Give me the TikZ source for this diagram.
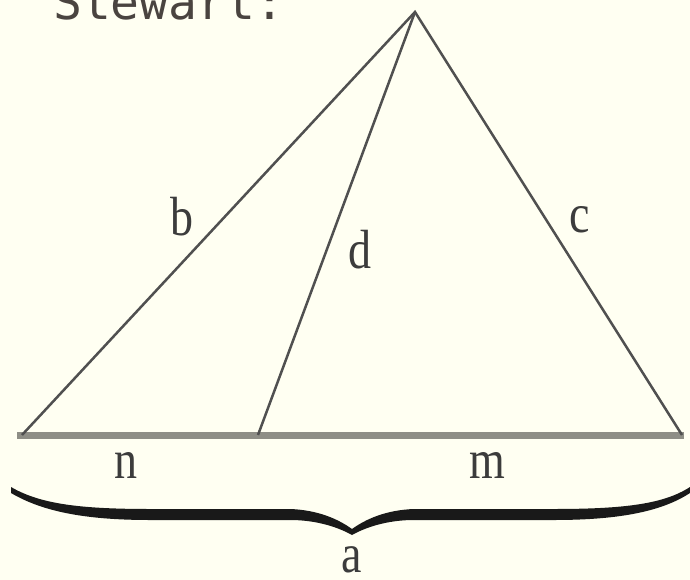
\documentclass[tikz,border=0pt]{standalone}
\usepackage{fontspec}
\setmainfont{Liberation Serif}
\newfontfamily\monofnt{DejaVu Sans Mono}
\definecolor{bgcol}{HTML}{FFFFF2}
\definecolor{edgecol}{HTML}{505050}
\definecolor{lblcol}{HTML}{3C3C3C}
\definecolor{basecol}{HTML}{8E8E86}
\definecolor{txtcol}{HTML}{4A4440}
\begin{document}
\begin{tikzpicture}[x=1pt,y=-1pt,
  edge/.style={draw=edgecol,line width=2.5pt},
  baseline seg/.style={draw=basecol,line width=7pt},
  lbl/.style={font=\fontsize{46}{46}\selectfont,text=lblcol,inner sep=0pt,yscale=1.2}]
\fill[bgcol] (0,0) rectangle (690,580);
\useasboundingbox (0,0) rectangle (690,580);
\node[anchor=base west,inner sep=0pt,text=txtcol,font=\monofnt\fontsize{48}{48}\selectfont] (title) at (53,20) {Stewart:};
\coordinate (A) at (415,12);
\coordinate (B) at (22,435);
\coordinate (C) at (682,435);
\coordinate (D) at (258,435);
\draw[baseline seg,shorten <=-5pt,shorten >=-2pt] (B) -- (C);
\draw[edge] (B) -- (A) -- (C);
\draw[edge] (A) -- (D);
\node[lbl] (lb) at (182,217) {b};
\node[lbl] (ld) at (360,250) {d};
\node[lbl] (lc) at (580,220) {c};
\node[lbl] (ln) at (126,465) {n};
\node[lbl] (lm) at (487,465) {m};
\node[lbl] (la) at (352,560) {a};
% brace
\fill[black!90]
  (11,487) .. controls (40,504) and (80,509) .. (150,509) -- (290,509)
  .. controls (318,510) and (338,519) .. (352,529)
  .. controls (366,519) and (386,510) .. (414,509) -- (554,509)
  .. controls (624,509) and (664,504) .. (690,487)
  -- (690,493)
  .. controls (664,510) and (624,520) .. (554,520) -- (414,520)
  .. controls (392,520) and (370,525) .. (352,535)
  .. controls (334,525) and (312,520) .. (290,520) -- (150,520)
  .. controls (80,520) and (40,510) .. (11,493) -- cycle;
\end{tikzpicture}
\end{document}
